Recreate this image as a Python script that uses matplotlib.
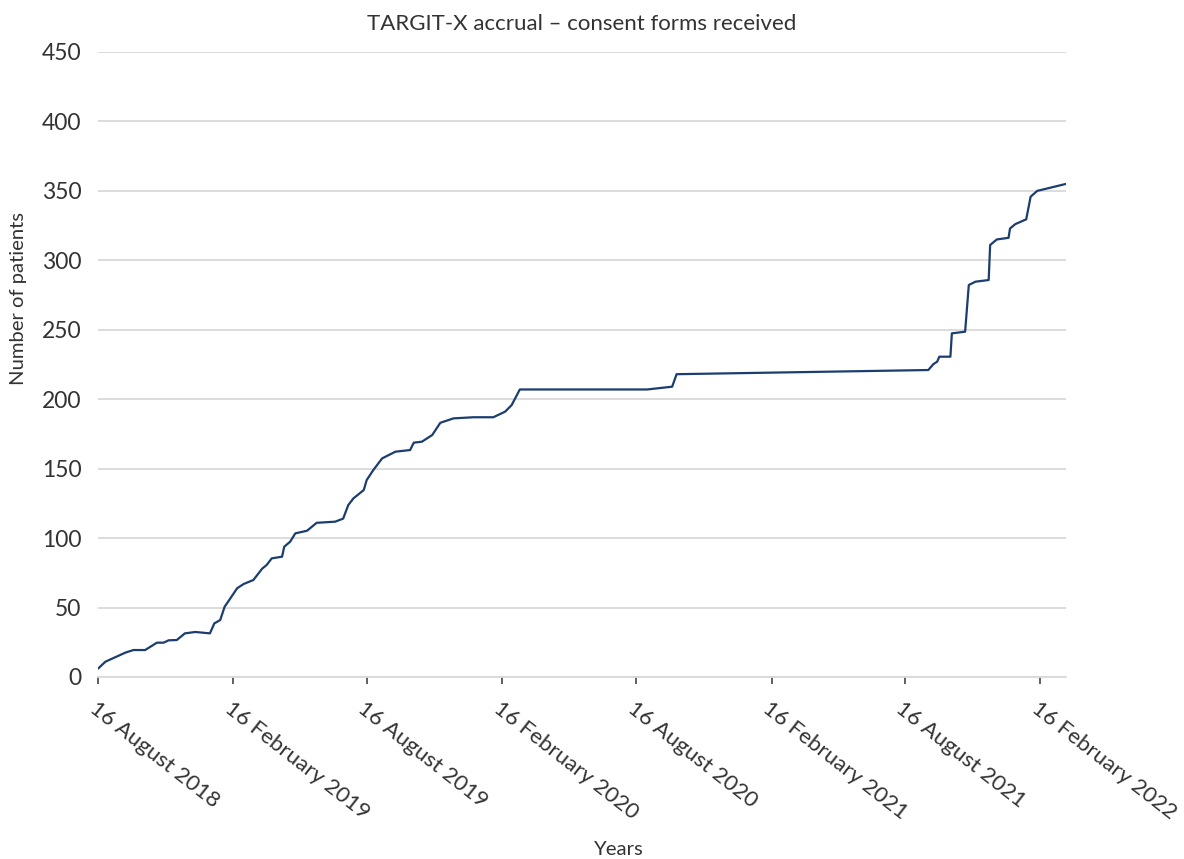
import pandas as pd
import matplotlib
matplotlib.use("Agg")
import matplotlib.pyplot as plt
from matplotlib.transforms import ScaledTranslation

# Cumulative consent forms received
datas = [
    "2018-08-16", "2018-08-26", "2018-09-22", "2018-10-03", "2018-10-19",
    "2018-11-04", "2018-11-13", "2018-11-20", "2018-12-01", "2018-12-12",
    "2018-12-26", "2019-01-15", "2019-01-21", "2019-01-29", "2019-02-04",
    "2019-02-11", "2019-02-21", "2019-03-02", "2019-03-15", "2019-03-27",
    "2019-04-02", "2019-04-09", "2019-04-23", "2019-04-26", "2019-05-04",
    "2019-05-11", "2019-05-27", "2019-06-09", "2019-07-04", "2019-07-15",
    "2019-07-22", "2019-07-29", "2019-08-12", "2019-08-16", "2019-08-25",
    "2019-09-06", "2019-09-24", "2019-10-14", "2019-10-19", "2019-10-30",
    "2019-11-13", "2019-11-24", "2019-12-12", "2020-01-08", "2020-02-04",
    "2020-02-20", "2020-02-29", "2020-03-11", "2020-08-31", "2020-10-04",
    "2020-10-10", "2021-09-17", "2021-09-24", "2021-09-29", "2021-10-02",
    "2021-10-17", "2021-10-19", "2021-11-06", "2021-11-11", "2021-11-20",
    "2021-12-08", "2021-12-10", "2021-12-19", "2022-01-04", "2022-01-06",
    "2022-01-13", "2022-01-28", "2022-02-03", "2022-02-12", "2022-03-23",
]
pacientes = [
    6, 11, 17.5, 19.4, 19.4,
    24.7, 24.7, 26.4, 26.6, 31.4,
    32.4, 31.4, 38.6, 41, 50.6,
    56, 63.9, 67, 69.8, 78,
    80.6, 85.4, 86.6, 93.8, 97.4,
    103.4, 105.3, 111, 111.8, 114,
    123.8, 128.6, 134.6, 141.8, 149,
    157.4, 162.2, 163.4, 168.7, 169.4,
    174.2, 183, 186.2, 187, 187,
    191, 195.8, 207, 207, 209,
    218, 221, 225.3, 227, 230.6,
    230.6, 247.4, 248.6, 282.2, 284.6,
    285.8, 311, 315, 316.2, 322.9,
    326, 329.5, 345.8, 350, 355,
]

ticks_x = [
    "2018-08-16", "2019-02-16", "2019-08-16", "2020-02-16",
    "2020-08-16", "2021-02-16", "2021-08-16", "2022-02-16",
]
ticks_y = [0, 50, 100, 150, 200, 250, 300, 350, 400, 450]

COR_LINHA = "#1b3d70"
COR_TEXTO = "#333333"
COR_GRADE = "#d9d9d9"

plt.rcParams["font.family"] = ["Lato", "DejaVu Sans"]

x = pd.to_datetime(datas)
tx = pd.to_datetime(ticks_x)

fig = plt.figure(figsize=(11.84, 8.59), dpi=100)
ax = fig.add_axes([0.0828, 0.2119, 0.8175, 0.7276])

ax.plot(x, pacientes, color=COR_LINHA, linewidth=1.6,
        solid_joinstyle="round", solid_capstyle="round", zorder=3)

ax.set_xlim(x[0], x[-1])
ax.set_ylim(0, 450)
ax.set_yticks(ticks_y)
ax.set_xticks(tx)
ax.set_xticklabels([f"{d.day} {d.strftime('%B %Y')}" for d in tx],
                   rotation=-38, ha="left", va="top", rotation_mode="anchor")

# desloca os rótulos de data um pouco para a direita
desloc = ScaledTranslation(8 / 100, 0, fig.dpi_scale_trans)
for rotulo in ax.get_xticklabels():
    rotulo.set_transform(rotulo.get_transform() + desloc)

ax.grid(True, axis="y", color=COR_GRADE, linewidth=1.3)
ax.set_axisbelow(True)
for lado in ["left", "right", "top"]:
    ax.spines[lado].set_visible(False)
ax.spines["bottom"].set_color(COR_GRADE)
ax.spines["bottom"].set_linewidth(1.3)

ax.tick_params(axis="y", length=0, pad=12, labelsize=16.5, labelcolor=COR_TEXTO)
ax.tick_params(axis="x", length=5, width=1.2, color="#444444", pad=10,
               labelsize=16, labelcolor=COR_TEXTO)

ax.set_ylabel("Number of patients", fontsize=14.6, color=COR_TEXTO)
ax.yaxis.set_label_coords(-0.073, 0.605)
ax.set_xlabel("Years", fontsize=14.6, color=COR_TEXTO)
ax.xaxis.set_label_coords(0.538, -0.262)
ax.set_title("TARGIT-X accrual \u2013 consent forms received",
             fontsize=16, color=COR_TEXTO, pad=16)

fig.savefig("out.png", dpi=100)
